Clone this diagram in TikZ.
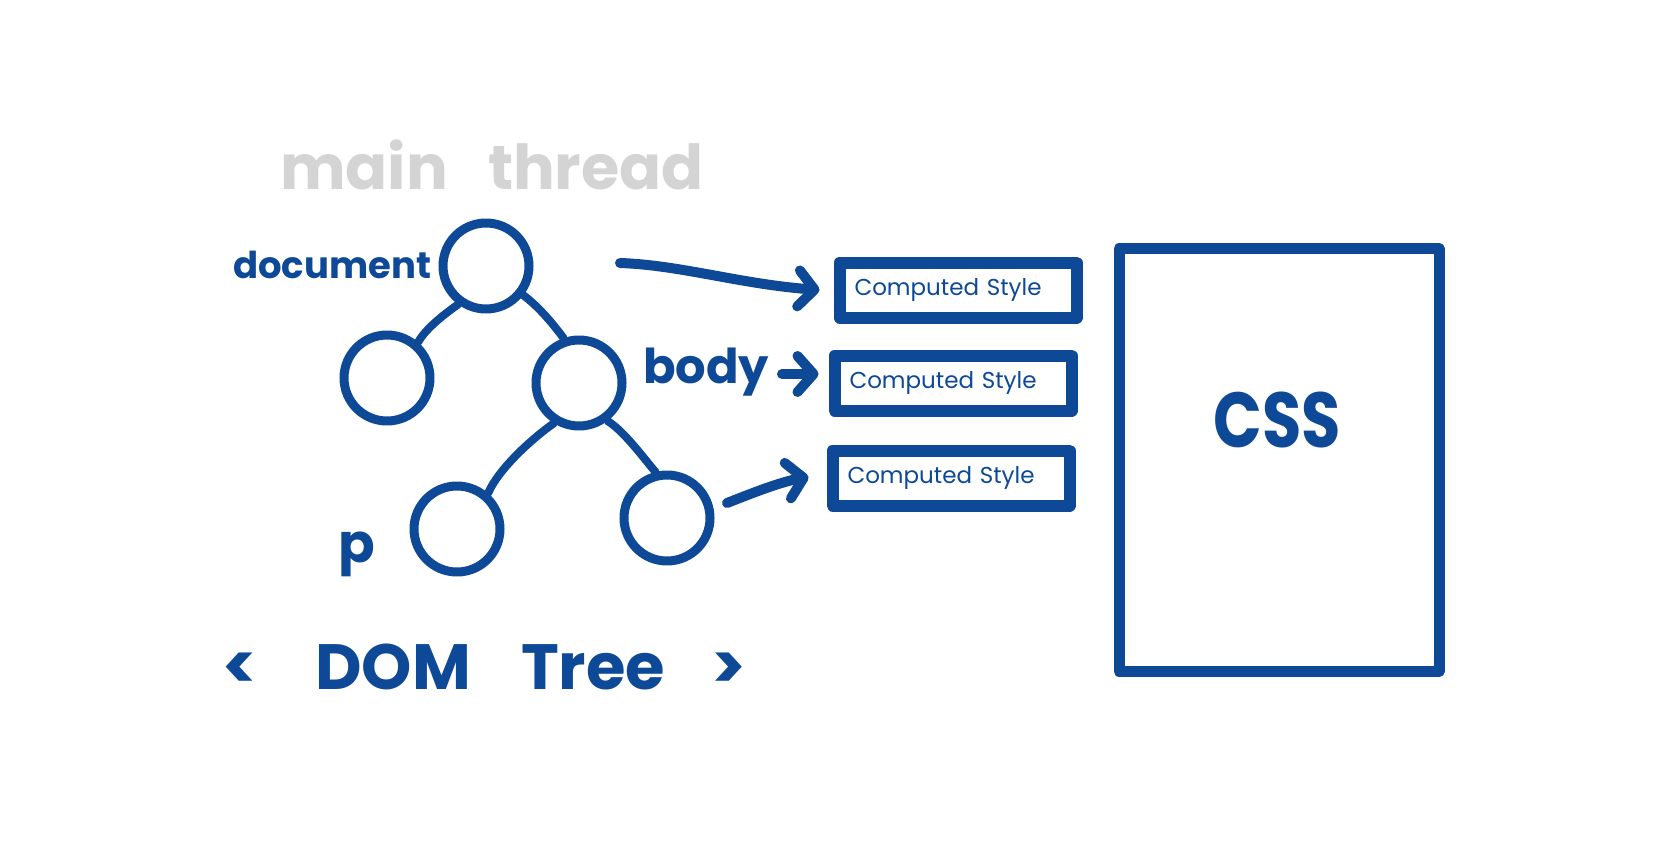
\documentclass[tikz,border=0pt]{standalone}
\usepackage{fontspec}
\setmainfont{Poppins}
\usetikzlibrary{arrows.meta}
\definecolor{inkblue}{RGB}{13,73,150}
\definecolor{pencil}{RGB}{212,212,212}
\begin{document}
\begin{tikzpicture}[x=1pt,y=-1pt,
  ink/.style={draw=inkblue, line cap=round, line join=round},
  tnode/.style={circle, ink, line width=9pt, minimum size=86pt, inner sep=0pt},
  branch/.style={ink, line width=8pt},
  arr/.style={ink, line width=10pt, -{Straight Barb[length=16pt,width=36pt,round]}},
  csbox/.style={ink, line width=12pt, minimum height=55pt, text width=207pt, inner xsep=15pt, inner ysep=0pt, align=left, font=\fontsize{23}{27}\selectfont, text=inkblue},
  lbl/.style={text=inkblue, inner sep=0pt, anchor=base west}
]
\fill[white] (0,0) rectangle (1668,861);
\useasboundingbox (0,0) rectangle (1668,861);

% title
\node[text=pencil, inner sep=0pt, anchor=base west, font=\bfseries\fontsize{62}{70}\selectfont] (title) at (280,190) {main\hspace{40pt}thread};

% tree nodes
\node[tnode] (doc) at (486,266) {};
\node[tnode] (left) at (387,378) {};
\node[tnode] (body) at (579,383) {};
\node[tnode] (pnode) at (457,529) {};
\node[tnode] (rgt) at (667,518) {};

% labels
\node[lbl, font=\bfseries\fontsize{37}{42}\selectfont] (doclbl) at (233,278) {document};
\node[lbl, font=\bfseries\fontsize{48}{52}\selectfont] (bodylbl) at (643,383) {body};
\node[lbl, font=\bfseries\fontsize{54}{58}\selectfont] (plbl) at (338,562) {p};
\node[lbl, font=\bfseries\fontsize{64}{70}\selectfont] (domlbl) at (222,689) {<\hspace{58pt}DOM\hspace{50pt}Tree\hspace{46pt}>};

% branches
\draw[branch] (doc.234) .. controls (446,313) and (426,328) .. (left.49);
\draw[branch] (doc.322) .. controls (540,308) and (553,324) .. (body.109);
\draw[branch] (body.238) .. controls (530,440) and (498,470) .. (pnode.49);
\draw[branch] (body.307) .. controls (625,432) and (645,460) .. (rgt.104);

% computed style boxes
\node[csbox] (cs1) at (958,290) {Computed Style};
\node[csbox] (cs2) at (953,383) {Computed Style};
\node[csbox] (cs3) at (951,478) {Computed Style};

% arrows
\coordinate (a1s) at (620,263);
\coordinate (a2s) at (782,374);
\coordinate (a3s) at (727,503);
\draw[arr] (a1s) .. controls (680,265) and (740,284) .. ([xshift=-14pt]cs1.west);
\draw[arr] (a2s) -- ([xshift=-10pt,yshift=9pt]cs2.west);
\draw[arr] (a3s) .. controls (750,494) and (780,482) .. ([xshift=-18pt,yshift=1pt]cs3.west);

% CSS box
\node[ink, line width=11pt, minimum width=320pt, minimum height=423pt, inner sep=0pt] (css) at (1279,460) {};
\node[text=inkblue, inner sep=0pt, font=\bfseries\fontsize{78}{84}\selectfont] (csslbl) at (1277,420) {\scalebox{0.82}[1]{CSS}};
\end{tikzpicture}
\end{document}
